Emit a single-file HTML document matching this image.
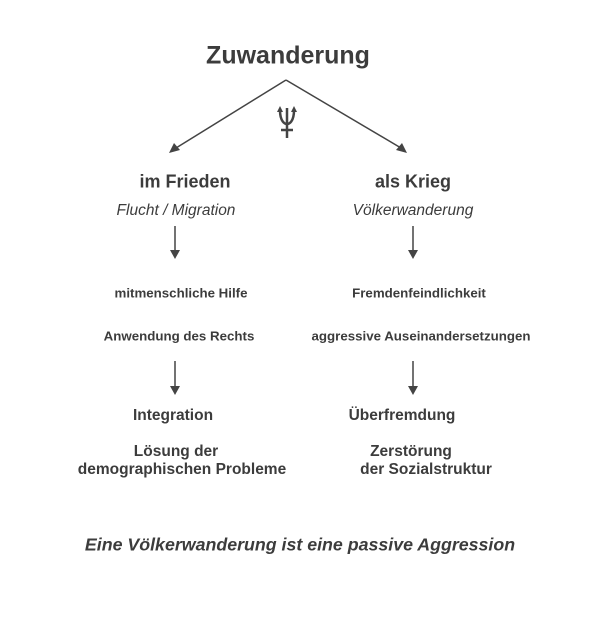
<!DOCTYPE html>
<html><head><meta charset="utf-8"><style>
body{margin:0;width:600px;height:617px;background:#fff;position:relative;font-family:"Liberation Sans",sans-serif;color:#3c3c3c;overflow:hidden}
.t{position:absolute;transform:translate(-50%,-50%);white-space:nowrap;text-align:center}
.b{font-weight:bold}
.i{font-style:italic}
</style></head><body>
<svg width="600" height="617" style="position:absolute;left:0;top:0">
<g stroke="#444" stroke-width="1.5" fill="none">
<line x1="286" y1="80" x2="176" y2="148"/>
<line x1="286" y1="80" x2="401" y2="148"/>
<line x1="175" y1="226" x2="175" y2="252"/>
<line x1="413" y1="226" x2="413" y2="252"/>
<line x1="175" y1="361" x2="175" y2="388"/>
<line x1="413" y1="361" x2="413" y2="388"/>
</g>
<g fill="#444">
<polygon points="169,153 174,143 180,150"/>
<polygon points="407,153 402,143 396,150"/>
<polygon points="170,250 180,250 175,259"/>
<polygon points="408,250 418,250 413,259"/>
<polygon points="170,386 180,386 175,395"/>
<polygon points="408,386 418,386 413,395"/>
</g>
<g stroke="#444" stroke-width="2.5" fill="none">
<path d="M280,110 C280,122 285,124 287,124 C289,124 294,122 294,110"/>
<line x1="287" y1="108" x2="287" y2="138"/>
<line x1="281" y1="130" x2="293" y2="130"/>
</g>
<polygon points="277,112 280,106 283,112" fill="#444"/>
<polygon points="291,112 294,106 297,112" fill="#444"/>
</svg>
<div class="t b" style="left:288px;top:56px;font-size:25px">Zuwanderung</div>
<div class="t b" style="left:185px;top:182px;font-size:18px">im Frieden</div>
<div class="t b" style="left:413px;top:182px;font-size:18px">als Krieg</div>
<div class="t i" style="left:176px;top:211px;font-size:15.5px">Flucht / Migration</div>
<div class="t i" style="left:413px;top:211px;font-size:15.5px">Völkerwanderung</div>
<div class="t b" style="left:181px;top:293px;font-size:13.3px">mitmenschliche Hilfe</div>
<div class="t b" style="left:419px;top:293px;font-size:13.3px">Fremdenfeindlichkeit</div>
<div class="t b" style="left:179px;top:336px;font-size:13.3px">Anwendung des Rechts</div>
<div class="t b" style="left:421px;top:336px;font-size:13.3px">aggressive Auseinandersetzungen</div>
<div class="t b" style="left:173px;top:416px;font-size:15.5px">Integration</div>
<div class="t b" style="left:402px;top:416px;font-size:15.5px">Überfremdung</div>
<div class="t b" style="left:176px;top:452px;font-size:15.5px">Lösung der</div>
<div class="t b" style="left:182px;top:470px;font-size:15.5px">demographischen Probleme</div>
<div class="t b" style="left:411px;top:452px;font-size:15.5px">Zerstörung</div>
<div class="t b" style="left:426px;top:470px;font-size:15.5px">der Sozialstruktur</div>
<div class="t b i" style="left:300px;top:545px;font-size:17.8px">Eine Völkerwanderung ist eine passive Aggression</div>
</body></html>
